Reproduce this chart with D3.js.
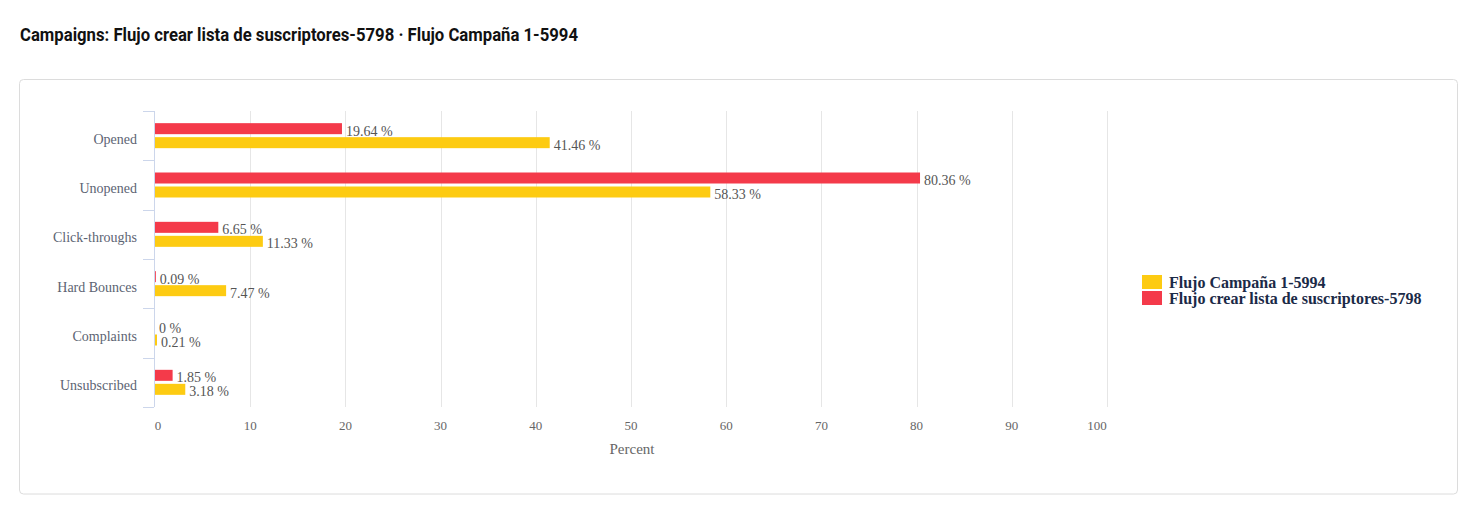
<!DOCTYPE html>
<html><head><meta charset="utf-8">
<script src="https://cdn.jsdelivr.net/npm/d3@7"></script>
<style>html,body{margin:0;padding:0;background:#fff;}svg{display:block;}</style>
</head><body>
<svg id="chart" width="1477" height="512"></svg>
<script>
const title = "Campaigns: Flujo crear lista de suscriptores-5798 · Flujo Campaña 1-5994";
const categories = ["Opened", "Unopened", "Click-throughs", "Hard Bounces", "Complaints", "Unsubscribed"];
const seriesNames = ["Flujo crear lista de suscriptores-5798", "Flujo Campaña 1-5994"];
const seriesCrear = [19.64, 80.36, 6.65, 0.09, 0, 1.85];
const seriesCampana = [41.46, 58.33, 11.33, 7.47, 0.21, 3.18];
const seriesColors = ["#f43a4a", "#fdcb12"];
const xTicks = [0, 10, 20, 30, 40, 50, 60, 70, 80, 90, 100];
const xTitle = "Percent";
const legendOrder = [1, 0];

const seriesValues = [seriesCrear, seriesCampana];
const svg = d3.select("#chart");

// card
svg.append("rect").attr("x", 19.5).attr("y", 79.5).attr("width", 1438).attr("height", 414.5)
  .attr("rx", 4).attr("fill", "#fff").attr("stroke", "#dcdcdc");

// title
const t = svg.append("text").attr("x", 20).attr("y", 41)
  .attr("font-family", "'Liberation Sans Narrow', Roboto, sans-serif")
  .attr("font-weight", 700).attr("font-size", 18).attr("fill", "#111").text(title);
const tl = t.node().getComputedTextLength();
if (Math.abs(tl - 558) > 4) t.attr("textLength", 558).attr("lengthAdjust", "spacingAndGlyphs");

const x = d3.scaleLinear().domain([0, 100]).range([155, 1107]);
const y = d3.scaleBand().domain(categories).range([111, 407]);
const y1 = d3.scaleBand().domain(seriesNames).range([0, y.bandwidth()]).paddingInner(0.214).paddingOuter(0.869);

// gridlines
svg.append("g").selectAll("line").data(xTicks.filter(d => d > 0)).join("line")
  .attr("x1", d => Math.round(x(d)) + 0.5).attr("x2", d => Math.round(x(d)) + 0.5)
  .attr("y1", 111).attr("y2", 407).attr("stroke", "#e6e6e6");

// x tick labels
svg.append("g").selectAll("text").data(xTicks).join("text")
  .attr("x", d => x(d) + (d === 0 ? 3 : d === 100 ? -10 : 0))
  .attr("y", 430).attr("text-anchor", "middle")
  .attr("font-family", "'Liberation Serif', 'Times New Roman', serif").attr("font-size", 13)
  .attr("fill", "#666").text(d => d);

svg.append("text").attr("x", 632).attr("y", 454).attr("text-anchor", "middle")
  .attr("font-family", "'Liberation Serif', serif").attr("font-size", 15).attr("fill", "#666").text(xTitle);

// y axis
const yAxis = svg.append("g");
yAxis.append("line").attr("x1", 154.5).attr("x2", 154.5).attr("y1", 111).attr("y2", 407).attr("stroke", "#ccd6eb");
const bounds = categories.map(c => y(c)).concat([407]);
yAxis.selectAll("line.tick").data(bounds).join("line").attr("class", "tick")
  .attr("x1", 143).attr("x2", 154).attr("y1", d => Math.round(d) + 0.5).attr("y2", d => Math.round(d) + 0.5)
  .attr("stroke", "#ccd6eb");
yAxis.selectAll("text").data(categories).join("text")
  .attr("x", 137).attr("y", d => y(d) + y.bandwidth() / 2 + 8).attr("text-anchor", "end")
  .attr("font-family", "'Liberation Serif', serif").attr("font-size", 14).attr("fill", "#5c6473").text(d => d);

// bars
seriesNames.forEach((s, si) => {
  const g = svg.append("g");
  const data = categories.map((c, i) => ({ c, v: seriesValues[si][i] }));
  g.selectAll("rect").data(data).join("rect")
    .attr("x", x(0)).attr("y", d => y(d.c) + y1(s))
    .attr("width", d => x(d.v) - x(0)).attr("height", y1.bandwidth())
    .attr("fill", seriesColors[si]);
  g.selectAll("text").data(data).join("text")
    .attr("x", d => x(d.v) + 4).attr("y", d => y(d.c) + y1(s) + y1.bandwidth() / 2 + 7)
    .attr("font-family", "'Liberation Serif', serif").attr("font-size", 14).attr("fill", "#555")
    .text(d => d.v + " %");
});

// legend
const lg = svg.append("g");
legendOrder.forEach((si, k) => {
  lg.append("rect").attr("x", 1142).attr("y", 275 + k * 16).attr("width", 20).attr("height", 14)
    .attr("fill", seriesColors[si]);
  lg.append("text").attr("x", 1169).attr("y", 288 + k * 16)
    .attr("font-family", "'Liberation Serif', serif").attr("font-weight", 700).attr("font-size", 16)
    .attr("fill", "#1b2a47").text(seriesNames[si]);
});
</script>
</body></html>
